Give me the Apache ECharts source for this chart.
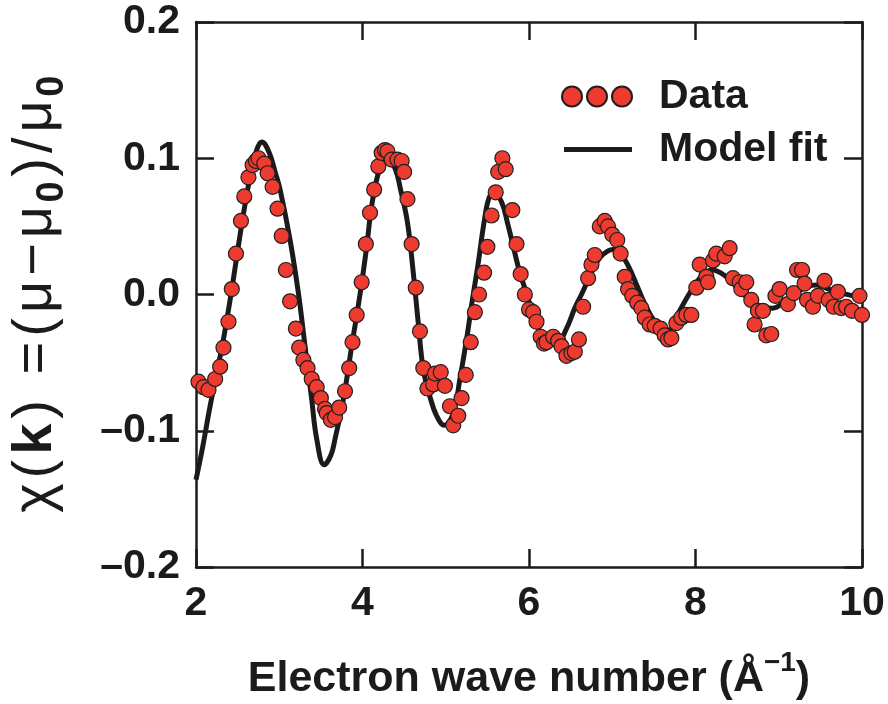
<!DOCTYPE html>
<html>
<head>
<meta charset="utf-8">
<script src="https://cdn.jsdelivr.net/npm/echarts@6/dist/echarts.min.js"></script>
<style>html,body{margin:0;padding:0;background:#fff}#c{width:888px;height:704px}</style>
</head>
<body>
<div id="c"></div>
<script>
// Measured data points: electron wave number k (1/Å) and chi(k)
var dataK = [2.03,2.09,2.15,2.23,2.29,2.33,2.39,2.43,2.48,2.54,2.58,2.63,2.68,2.72,2.75,2.82,2.86,2.92,2.98,3.03,3.08,3.13,3.20,3.24,3.29,3.34,3.39,3.45,3.50,3.55,3.57,3.62,3.67,3.72,3.79,3.84,3.88,3.93,3.99,4.04,4.09,4.14,4.19,4.23,4.27,4.30,4.35,4.42,4.47,4.50,4.54,4.59,4.64,4.69,4.73,4.78,4.85,4.87,4.94,4.99,5.05,5.09,5.15,5.19,5.24,5.30,5.35,5.40,5.46,5.50,5.55,5.60,5.63,5.68,5.72,5.80,5.85,5.90,5.95,6.00,6.05,6.09,6.14,6.18,6.21,6.29,6.35,6.39,6.45,6.51,6.55,6.60,6.65,6.71,6.75,6.79,6.85,6.91,6.95,7.00,7.06,7.10,7.15,7.19,7.24,7.30,7.35,7.39,7.45,7.51,7.58,7.63,7.67,7.71,7.77,7.83,7.89,7.95,8.01,8.05,8.13,8.15,8.21,8.25,8.35,8.41,8.45,8.53,8.55,8.61,8.67,8.71,8.75,8.81,8.85,8.91,8.96,9.01,9.11,9.18,9.22,9.28,9.31,9.34,9.41,9.47,9.55,9.60,9.66,9.71,9.75,9.81,9.88,9.97,10.0];
var dataChi = [-0.064,-0.068,-0.070,-0.062,-0.053,-0.039,-0.020,0.004,0.030,0.054,0.072,0.086,0.095,0.098,0.100,0.096,0.089,0.079,0.063,0.043,0.018,-0.005,-0.025,-0.039,-0.048,-0.054,-0.062,-0.068,-0.076,-0.084,-0.087,-0.092,-0.090,-0.083,-0.071,-0.054,-0.035,-0.015,0.009,0.037,0.060,0.077,0.094,0.104,0.106,0.105,0.099,0.099,0.098,0.090,0.070,0.037,0.005,-0.027,-0.054,-0.069,-0.066,-0.058,-0.057,-0.067,-0.082,-0.096,-0.089,-0.076,-0.059,-0.035,-0.013,0.000,0.016,0.035,0.058,0.075,0.090,0.100,0.092,0.062,0.037,0.015,0.000,-0.011,-0.013,-0.020,-0.031,-0.036,-0.035,-0.031,-0.034,-0.038,-0.045,-0.043,-0.042,-0.033,-0.009,0.012,0.022,0.029,0.050,0.054,0.050,0.044,0.040,0.030,0.013,0.004,-0.001,-0.006,-0.010,-0.017,-0.022,-0.023,-0.025,-0.030,-0.033,-0.032,-0.021,-0.017,-0.015,-0.015,0.005,0.022,0.013,0.009,0.025,0.030,0.028,0.034,0.012,0.009,0.004,0.009,-0.004,-0.022,-0.012,-0.012,-0.030,-0.029,-0.001,0.004,-0.007,0.001,0.018,0.018,0.008,-0.004,-0.009,-0.001,0.010,-0.004,-0.009,0.002,-0.010,-0.009,-0.012,-0.001,-0.015];
// Model fit curve
var fitK = [2.00,2.08,2.16,2.24,2.32,2.42,2.52,2.60,2.68,2.74,2.79,2.88,2.95,3.01,3.13,3.23,3.31,3.39,3.45,3.54,3.62,3.67,3.77,3.87,3.97,4.05,4.11,4.19,4.26,4.33,4.40,4.45,4.54,4.61,4.67,4.73,4.81,4.89,4.98,5.09,5.17,5.25,5.32,5.39,5.46,5.52,5.58,5.67,5.74,5.82,5.89,5.97,6.07,6.17,6.25,6.35,6.45,6.55,6.63,6.75,6.85,6.95,7.01,7.10,7.20,7.30,7.40,7.50,7.60,7.68,7.80,7.92,8.05,8.20,8.35,8.50,8.65,8.80,8.93,9.05,9.20,9.35,9.45,9.60,9.75,9.90,10.0];
var fitChi = [-0.136,-0.112,-0.085,-0.060,-0.036,0.000,0.040,0.070,0.095,0.108,0.112,0.104,0.090,0.077,0.040,0.001,-0.038,-0.077,-0.106,-0.125,-0.118,-0.106,-0.077,-0.038,0.000,0.035,0.065,0.089,0.097,0.097,0.091,0.079,0.053,0.016,-0.021,-0.055,-0.075,-0.089,-0.096,-0.087,-0.062,-0.033,-0.004,0.023,0.053,0.071,0.0745,0.068,0.053,0.033,0.016,0.001,-0.018,-0.031,-0.034,-0.034,-0.025,-0.010,0.000,0.016,0.027,0.032,0.033,0.030,0.020,0.006,-0.008,-0.019,-0.025,-0.026,-0.013,0.000,0.012,0.018,0.014,0.005,-0.004,-0.009,-0.010,-0.006,0.001,0.006,0.007,0.004,0.001,-0.001,-0.002];
var xTicks = [2, 4, 6, 8, 10];
var yTicks = [-0.2, -0.1, 0.0, 0.1, 0.2];

var scatterData = dataK.map(function (k, i) { return [k, dataChi[i]]; });
var fitData = fitK.map(function (k, i) { return [k, fitChi[i]]; });

var FONT = 'Liberation Sans, Arial, Helvetica, sans-serif';
var INK = '#1c1a1a';
var RED = '#ee3b2f';

function yFmt(v) {
  var s = Math.abs(v).toFixed(1);
  return v < -1e-9 ? '\u2013' + s : s;
}

// y-axis title built char by char so each glyph gets a little spacing
var yTitleParts = [['n', '\u03c7'], ['n', '('], ['b', 'k'], ['n', ')'], ['n', ' '], ['n', '='], ['n', '('], ['n', '\u03bc'], ['n', '\u2212'], ['n', '\u03bc'], ['s', '0'], ['n', ')'], ['n', '/'], ['n', '\u03bc'], ['s', '0']];
var yTitle = yTitleParts.map(function (p) { return '{' + p[0] + '|' + p[1] + '}'; }).join('');

var frameAxisLine = { show: true, onZero: false, lineStyle: { color: INK, width: 2.5 } };
var innerTick = { show: true, inside: true, length: 18, lineStyle: { color: INK, width: 2.5 } };

var chart = echarts.init(document.getElementById('c'), null, { renderer: 'canvas' });
chart.setOption({
  backgroundColor: '#ffffff',
  animation: false,
  grid: { left: 196, right: 26, top: 22, bottom: 137, containLabel: false, outerBoundsMode: 'none' },
  legend: {
    orient: 'vertical',
    left: 556,
    top: 71,
    itemWidth: 70,
    itemHeight: 22,
    itemGap: 12,
    selectedMode: false,
    textStyle: { fontFamily: FONT, fontWeight: 'bold', fontSize: 41, color: INK, padding: [0, 0, 0, 22] },
    data: [
      { name: 'Data', icon: 'path://M1,11a10,10 0 1,0 20,0a10,10 0 1,0 -20,0Z M26,11a10,10 0 1,0 20,0a10,10 0 1,0 -20,0Z M51,11a10,10 0 1,0 20,0a10,10 0 1,0 -20,0Z' },
      { name: 'Model fit', icon: 'path://M0,0L0.01,0L0,0.01Z M70,22L69.99,22L70,21.99Z M2,8.5L70,8.5L70,13.5L2,13.5Z', itemStyle: { color: INK, borderWidth: 0 } }
    ]
  },
  xAxis: [
    {
      type: 'value', position: 'bottom', min: xTicks[0], max: xTicks[xTicks.length - 1], interval: 2,
      axisLine: frameAxisLine, axisTick: innerTick, splitLine: { show: false },
      axisLabel: { margin: 16, fontFamily: FONT, fontWeight: 'bold', fontSize: 41, color: INK },
      name: '{t|Electron wave number (Å}{sup|\u22121}{t|)}',
      nameLocation: 'middle', nameGap: 82,
      nameTextStyle: {
        rich: {
          t: { fontFamily: FONT, fontWeight: 'bold', fontSize: 43, color: INK, lineHeight: 52, verticalAlign: 'bottom' },
          sup: { fontFamily: FONT, fontWeight: 'bold', fontSize: 28, color: INK, lineHeight: 28, verticalAlign: 'top' }
        }
      }
    },
    {
      type: 'value', position: 'top', min: xTicks[0], max: xTicks[xTicks.length - 1], interval: 2,
      axisLine: frameAxisLine, axisTick: innerTick, splitLine: { show: false }, axisLabel: { show: false }
    }
  ],
  yAxis: [
    {
      type: 'value', position: 'left', min: yTicks[0], max: yTicks[yTicks.length - 1], interval: 0.1,
      axisLine: frameAxisLine, axisTick: innerTick, splitLine: { show: false },
      axisLabel: { margin: 16, fontFamily: FONT, fontWeight: 'bold', fontSize: 41, color: INK, formatter: yFmt },
      name: yTitle,
      nameLocation: 'middle', nameRotate: 90, nameGap: 124,
      nameTextStyle: {
        rich: {
          n: { fontFamily: FONT, fontSize: 56, color: INK, lineHeight: 64, verticalAlign: 'top', padding: [0, 2.5, 0, 2.5] },
          b: { fontFamily: FONT, fontWeight: 'bold', fontSize: 56, color: INK, lineHeight: 64, verticalAlign: 'top', padding: [0, 2.5, 0, 2.5] },
          s: { fontFamily: FONT, fontWeight: 'bold', fontSize: 38, color: INK, lineHeight: 40, verticalAlign: 'bottom', padding: [0, 2, 0, 1] }
        }
      }
    },
    {
      type: 'value', position: 'right', min: yTicks[0], max: yTicks[yTicks.length - 1], interval: 0.1,
      axisLine: frameAxisLine, axisTick: innerTick, splitLine: { show: false }, axisLabel: { show: false }
    }
  ],
  series: [
    {
      name: 'Model fit', type: 'line', data: fitData, smooth: 0.4,
      showSymbol: false, symbol: 'none', z: 2,
      color: INK,
      lineStyle: { color: INK, width: 5 }
    },
    {
      name: 'Data', type: 'scatter', data: scatterData, symbol: 'circle', symbolSize: 15, z: 3,
      itemStyle: { color: RED, borderColor: '#231f20', borderWidth: 1.2, opacity: 1 }
    }
  ]
});
</script>
</body>
</html>
